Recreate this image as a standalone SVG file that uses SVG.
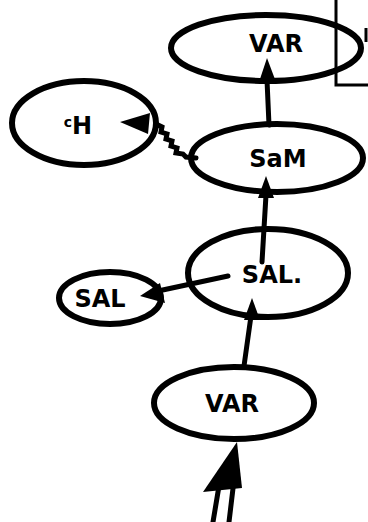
<svg xmlns="http://www.w3.org/2000/svg" width="368" height="522" viewBox="0 0 368 522">
<style>
.node ellipse{fill:none;stroke:#000;stroke-width:6}
.lbl{font-family:"DejaVu Sans","Liberation Sans",sans-serif;font-size:24px;font-weight:bold;fill:#000;text-anchor:middle}
.edge{fill:none;stroke:#000;stroke-width:5;stroke-linecap:round}
.head{fill:#000}
</style>
<rect width="368" height="522" fill="#fff"/>
<g id="bracket">
<path d="M336 0 V85 H368" fill="none" stroke="#000" stroke-width="3"/>
<path d="M366 28 V42" stroke="#000" stroke-width="3"/>
</g>
<g id="var-top" class="node">
<ellipse cx="266" cy="48" rx="95" ry="33"/>
<text class="lbl" x="276" y="52" font-size="26">VAR</text>
</g>
<g id="ch" class="node">
<ellipse cx="84" cy="123" rx="72" ry="42"/>
<text class="lbl" x="78" y="134" font-weight="normal"><tspan font-size="14" dy="-7">c</tspan><tspan dy="7">H</tspan></text>
</g>
<g id="som" class="node">
<ellipse cx="277" cy="158" rx="86" ry="34"/>
<text class="lbl" x="278" y="167">SaM</text>
</g>
<g id="sal-main" class="node">
<ellipse cx="268" cy="273" rx="80" ry="44"/>
<text class="lbl" x="272" y="283">SAL.</text>
</g>
<g id="sal-small" class="node">
<ellipse cx="110" cy="298" rx="51" ry="26"/>
<text class="lbl" x="100" y="307">SAL</text>
</g>
<g id="var-bottom" class="node">
<ellipse cx="234" cy="403" rx="80" ry="36"/>
<text class="lbl" x="232" y="412">VAR</text>
</g>
<g id="connectors">
<path class="edge" d="M269 125 L267 80"/>
<polygon class="head" points="267,58 259,82 276,82"/>
<path class="edge" stroke-width="3" d="M156 124 L162 127 L161 132 L167 134 L166 139 L172 141 L171 146 L177 148 L176 153 L183 154 L186 157 L196 158"/>
<polygon class="head" points="120,122 150,113 148,134"/>
<path class="edge" d="M262 262 L266 195"/>
<polygon class="head" points="266,176 258,198 274,198"/>
<path class="edge" d="M228 276 L158 291"/>
<polygon class="head" points="140,296 160,283 165,303"/>
<path class="edge" d="M244 366 L251 316"/>
<polygon class="head" points="252,298 244,320 260,320"/>
<path class="edge" d="M213 522 L220 480 M229 522 L234 480"/>
<polygon class="head" points="237,442 203,492 242,488"/>
</g>
</svg>
